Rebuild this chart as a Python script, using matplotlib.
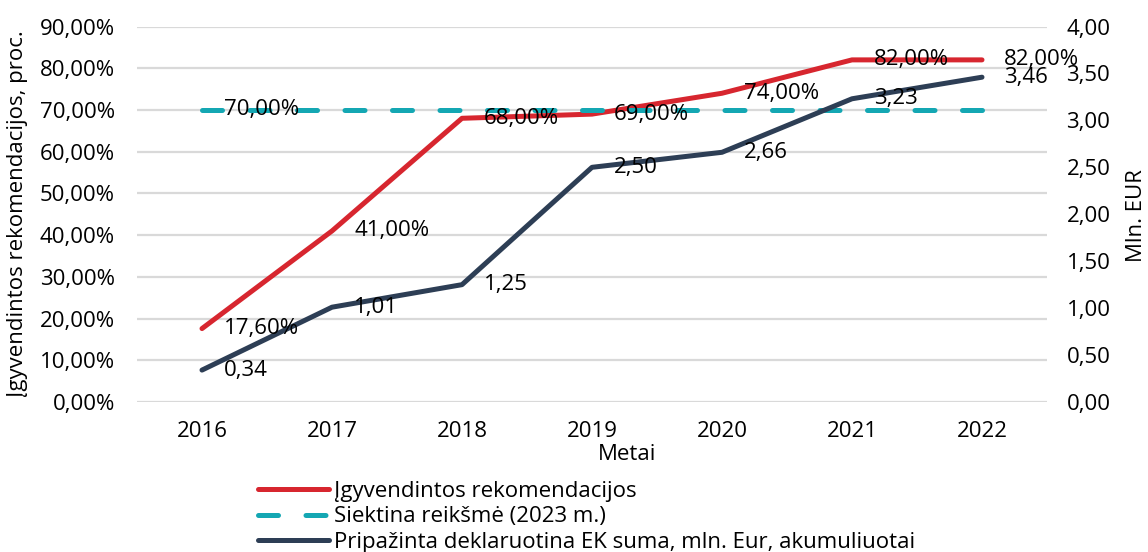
import numpy as np
import matplotlib
matplotlib.use("Agg")
import matplotlib.pyplot as plt

# chart data
years = ['2016', '2017', '2018', '2019', '2020', '2021', '2022']
implemented_pct = [17.6, 41.0, 68.0, 69.0, 74.0, 82.0, 82.0]
target_pct = [70.0, 70.0, 70.0, 70.0, 70.0, 70.0, 70.0]
ec_amount = [0.34, 1.01, 1.25, 2.50, 2.66, 3.23, 3.46]

left_ticks = [0, 10, 20, 30, 40, 50, 60, 70, 80, 90]
right_ticks = [0, 0.5, 1.0, 1.5, 2.0, 2.5, 3.0, 3.5, 4.0]

labels = ['Įgyvendintos rekomendacijos',
          'Siektina reikšmė (2023 m.)',
          'Pripažinta deklaruotina EK suma, mln. Eur, akumuliuotai']

RED = '#D7262F'
TEAL = '#14A7B3'
NAVY = '#2D3E55'
GRID = '#D9D9D9'
FS = 16

plt.rcParams['font.family'] = ['Open Sans', 'DejaVu Sans']


def fmt(v, pct=False):
    s = f"{v:.2f}".replace('.', ',')
    return s + '%' if pct else s


fig = plt.figure(figsize=(11.48, 5.52), dpi=100)
ax = fig.add_axes([137 / 1148, 1 - 402 / 552, 910 / 1148, 375.5 / 552])
ax2 = ax.twinx()

x = np.arange(len(years))

l1, = ax.plot(x, implemented_pct, color=RED, lw=3.6, solid_capstyle='round',
              solid_joinstyle='round', zorder=3)
l2, = ax.plot(x, target_pct, color=TEAL, lw=3.6, dashes=(4, 5.5),
              dash_capstyle='round', zorder=4)
l3, = ax2.plot(x, ec_amount, color=NAVY, lw=3.6, solid_capstyle='round',
               solid_joinstyle='round', zorder=3)

ax.set_xlim(-0.5, len(years) - 0.5)
ax.set_ylim(0, 90)
ax2.set_ylim(0, 4)
ax.set_yticks(left_ticks)
ax.set_yticklabels([fmt(v, True) for v in left_ticks])
ax2.set_yticks(right_ticks)
ax2.set_yticklabels([fmt(v) for v in right_ticks])
ax.set_xticks(x)
ax.set_xticklabels(years)

ax.grid(axis='y', color=GRID, lw=1.6)
ax.set_axisbelow(True)
for a in (ax, ax2):
    for s in a.spines.values():
        s.set_visible(False)
ax.tick_params(axis='y', length=0, pad=16, labelsize=FS)
ax.tick_params(axis='x', length=0, pad=14, labelsize=FS)
ax2.tick_params(axis='y', length=0, pad=14, labelsize=FS)

# data labels, right of each point, drawn above all lines
for xi, v in zip(x, implemented_pct):
    ax2.annotate(fmt(v, True), (xi, v), xycoords=ax.transData,
                 xytext=(16, 0), textcoords='offset points',
                 ha='left', va='center', fontsize=FS, zorder=10)
ax2.annotate(fmt(target_pct[0], True), (x[0], target_pct[0]),
             xycoords=ax.transData, xytext=(16, 0), textcoords='offset points',
             ha='left', va='center', fontsize=FS, zorder=10)
for xi, v in zip(x, ec_amount):
    ax2.annotate(fmt(v), (xi, v), xytext=(16, 0), textcoords='offset points',
                 ha='left', va='center', fontsize=FS, zorder=10)

fig.text(627 / 1148, 1 - 454 / 552, 'Metai', ha='center', va='center', fontsize=FS)
fig.text(18 / 1148, 1 - 214 / 552, 'Įgyvendintos rekomendacijos, proc.',
         rotation=90, ha='center', va='center', fontsize=FS)
fig.text(1137 / 1148, 1 - 216 / 552, 'Mln. EUR', rotation=90,
         ha='center', va='center', fontsize=FS)

fig.legend([l1, l2, l3], labels, loc='upper left',
           bbox_to_anchor=(258 / 1148, 1 - 481 / 552), frameon=False,
           fontsize=FS, handlelength=3.2, handletextpad=0.2,
           labelspacing=0.2, borderpad=0, borderaxespad=0)

fig.savefig('out.png', dpi=100)
